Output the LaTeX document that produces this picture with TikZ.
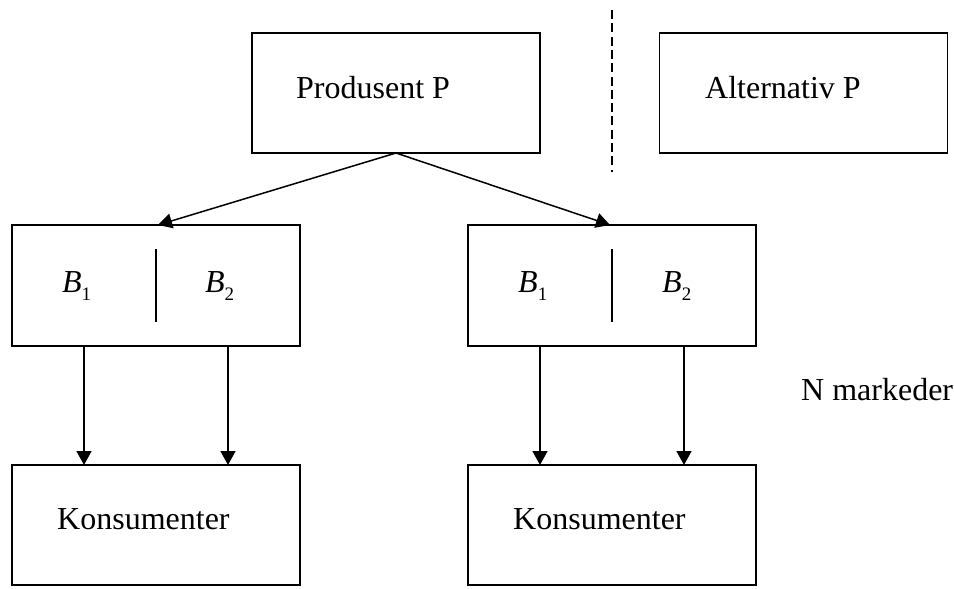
\documentclass[tikz,border=0pt]{standalone}
\usepackage{fontspec}
\setmainfont{Liberation Serif}
\usetikzlibrary{arrows.meta,calc}
\tikzset{
  box/.style={draw, line width=1.5pt, rectangle, minimum width=288pt, minimum height=120pt, inner sep=0pt, outer sep=0pt},
  lbl/.style={anchor=base west, inner sep=0pt, font=\fontsize{32}{37}\selectfont},
  arr/.style={line width=1.5pt, -{Triangle[length=14pt,width=15pt]}},
  divline/.style={line width=1.5pt},
  sepline/.style={line width=1.5pt, dash pattern=on 9pt off 4.3pt}
}
\newcommand{\Bsub}[1]{{\itshape B}\raisebox{-0.28em}{\fontsize{19}{20}\selectfont #1}}
\begin{document}
\begin{tikzpicture}[x=1pt,y=-1pt]
\useasboundingbox (0,0) rectangle (954,589);
% top boxes
\node[box] (prod) at (396,93) {};
\node[lbl] (prodt) at (296,98) {Produsent P};
\node[box] (alt) at (803.5,93) {};
\node[lbl] (altt) at (705,98) {Alternativ P};
% dashed separator
\coordinate (d1) at (612,10);
\coordinate (d2) at (612,172);
\draw[sepline] (d1) -- (d2);
% middle boxes
\node[box, minimum height=121pt] (bl) at (156,285.5) {};
\node[box, minimum height=121pt] (br) at (612,285.5) {};
\draw[divline] ($(bl.north)+(0,24)$) -- ($(bl.south)+(0,-24)$);
\draw[divline] ($(br.north)+(0,24)$) -- ($(br.south)+(0,-24)$);
\node[lbl] (bl1) at (62,292) {\Bsub{1}};
\node[lbl] (bl2) at (205,292) {\Bsub{2}};
\node[lbl] (br1) at (518,292) {\Bsub{1}};
\node[lbl] (br2) at (662,292) {\Bsub{2}};
% bottom boxes
\node[box] (kl) at (156,525) {};
\node[box] (kr) at (612,525) {};
\node[lbl] (klt) at (57,529) {Konsumenter};
\node[lbl] (krt) at (513,529) {Konsumenter};
% side label
\node[lbl] (nm) at (801,400) {N markeder};
% arrows
\draw[arr] (prod.south) -- ($(bl.north)+(2,0)$);
\draw[arr] (prod.south) -- ($(br.north)+(-2,0)$);
\draw[arr] ($(bl.south west)!.25!(bl.south east)$) -- ($(kl.north west)!.25!(kl.north east)$);
\draw[arr] ($(bl.south west)!.75!(bl.south east)$) -- ($(kl.north west)!.75!(kl.north east)$);
\draw[arr] ($(br.south west)!.25!(br.south east)$) -- ($(kr.north west)!.25!(kr.north east)$);
\draw[arr] ($(br.south west)!.75!(br.south east)$) -- ($(kr.north west)!.75!(kr.north east)$);
\end{tikzpicture}
\end{document}
